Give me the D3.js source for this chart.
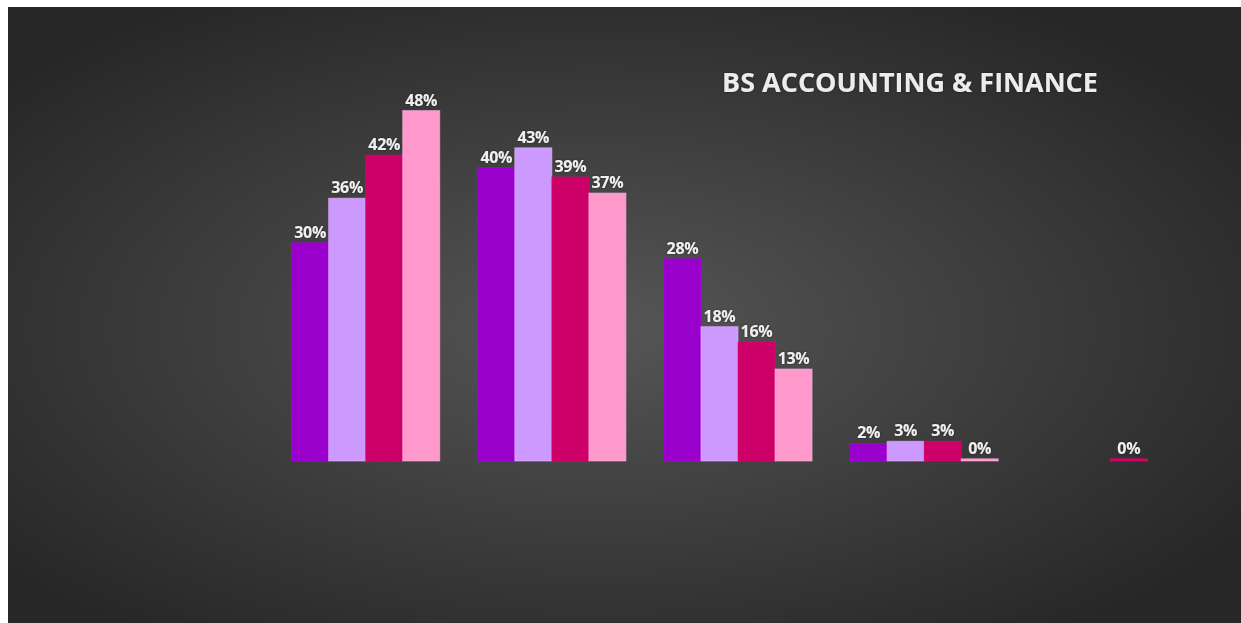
<!DOCTYPE html>
<html>
<head>
<meta charset="utf-8">
<script src="https://cdn.jsdelivr.net/npm/d3@7"></script>
<style>
  html, body { margin: 0; padding: 0; background: #ffffff; }
  svg { display: block; }
</style>
</head>
<body>
<svg id="chart" width="1241" height="623"></svg>
<script>
// ---- data ----
const categories = ["Group A", "Group B", "Group C", "Group D", "Group E"];
const seriesNames = ["Series 1", "Series 2", "Series 3", "Series 4"];
const seriesColors = ["#9900CC", "#CC99FF", "#CC0066", "#FF99CC"];
const series1 = [29.9, 40.2, 27.7, 2.4, null];
const series2 = [36.0, 42.9, 18.4, 2.7, null];
const series3 = [41.9, 38.9, 16.3, 2.7, 0.3];
const series4 = [48.0, 36.7, 12.6, 0.3, null];
const valueLabels = [
  ["30%", "40%", "28%", "2%", null],
  ["36%", "43%", "18%", "3%", null],
  ["42%", "39%", "16%", "3%", "0%"],
  ["48%", "37%", "13%", "0%", null]
];
const title = "BS ACCOUNTING & FINANCE";

const allSeries = [series1, series2, series3, series4];

const svg = d3.select("#chart");
const defs = svg.append("defs");

const grad = defs.append("radialGradient")
  .attr("id", "bg").attr("cx", "48%").attr("cy", "52%").attr("r", "62%")
  .attr("gradientUnits", "objectBoundingBox");
grad.append("stop").attr("offset", "0%").attr("stop-color", "#565656");
grad.append("stop").attr("offset", "100%").attr("stop-color", "#272727");

const glow = defs.append("filter").attr("id", "glow")
  .attr("x", "-20%").attr("y", "-20%").attr("width", "140%").attr("height", "140%");
glow.append("feGaussianBlur").attr("in", "SourceAlpha").attr("stdDeviation", 1.2).attr("result", "b");
glow.append("feFlood").attr("flood-color", "#000").attr("flood-opacity", 0.5);
glow.append("feComposite").attr("in2", "b").attr("operator", "in").attr("result", "s");
const m = glow.append("feMerge");
m.append("feMergeNode").attr("in", "s");
m.append("feMergeNode").attr("in", "SourceGraphic");

// chart background
svg.append("rect").attr("x", 8).attr("y", 7).attr("width", 1233).attr("height", 616)
  .attr("fill", "url(#bg)");

// scales
const x0 = d3.scaleBand().domain(categories).range([273, 1203]).paddingInner(0.2043).paddingOuter(0.1);
const x1 = d3.scaleBand().domain(seriesNames).range([0, x0.bandwidth()]);
const y = d3.scaleLinear().domain([0, 60]).range([461, 461 - 60 * 7.3]);

const rows = [];
allSeries.forEach((s, si) => {
  s.forEach((v, ci) => {
    if (v == null) return;
    rows.push({ si, ci, v, label: valueLabels[si][ci] });
  });
});

const g = svg.append("g");
g.selectAll("rect.bar").data(rows).enter().append("rect")
  .attr("class", "bar")
  .attr("x", d => x0(categories[d.ci]) + x1(seriesNames[d.si]))
  .attr("y", d => y(d.v))
  .attr("width", x1.bandwidth())
  .attr("height", d => y(0) - y(d.v))
  .attr("fill", d => seriesColors[d.si])
  .attr("stroke", d => d3.color(seriesColors[d.si]).brighter(0.4))
  .attr("stroke-opacity", 0.6)
  .attr("stroke-width", 1);

g.selectAll("text.lbl").data(rows.filter(d => d.label)).enter().append("text")
  .attr("class", "lbl")
  .attr("x", d => x0(categories[d.ci]) + x1(seriesNames[d.si]) + x1.bandwidth() / 2)
  .attr("y", d => y(d.v) - 5)
  .attr("text-anchor", "middle")
  .attr("font-family", "'Open Sans', sans-serif")
  .attr("font-weight", "bold")
  .attr("font-size", 16)
  .attr("letter-spacing", -0.3)
  .attr("fill", "#f0f0f0")
  .attr("filter", "url(#glow)")
  .text(d => d.label);

svg.append("text")
  .attr("x", 910).attr("y", 92)
  .attr("text-anchor", "middle")
  .attr("font-family", "'Open Sans', sans-serif")
  .attr("font-weight", "bold")
  .attr("font-size", 27)
  .attr("fill", "#ececec")
  .attr("filter", "url(#glow)")
  .text(title);
</script>
</body>
</html>
